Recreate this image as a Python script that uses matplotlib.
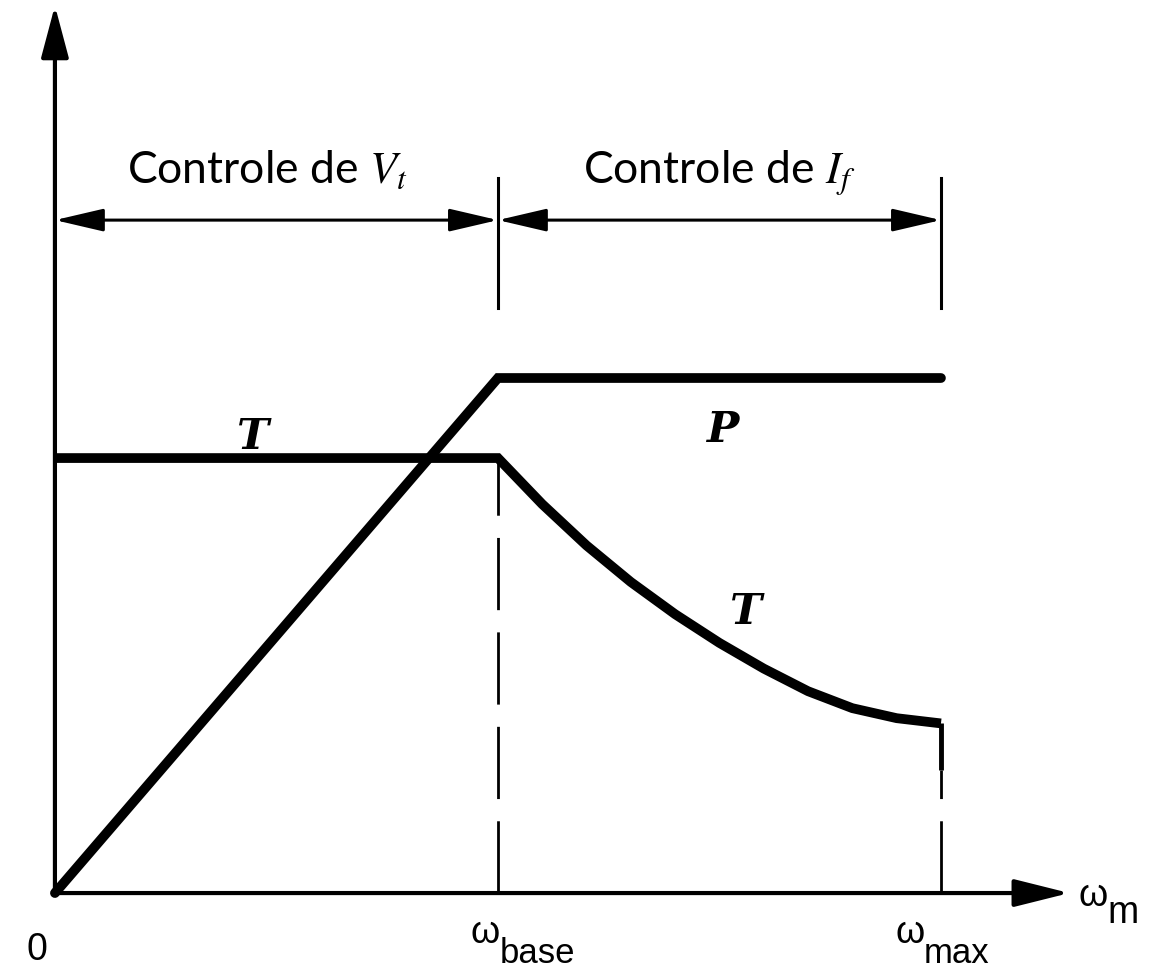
import matplotlib.pyplot as plt

# speed axis, per unit of base speed
w_base = 1.0
w_max = 2.0

# torque curve (per unit of rated torque)
t_w = [0.0, 1.0, 1.1, 1.2, 1.3, 1.4, 1.5, 1.6, 1.7, 1.8, 1.9, 2.0]
t_val = [1.0, 1.0, 0.894, 0.799, 0.715, 0.641, 0.575, 0.516, 0.464, 0.425, 0.402, 0.39]
t_drop = 0.283  # where the short vertical drop at w_max ends

# power curve
p_w = [0.0, 1.0, 2.0]
p_val = [0.0, 1.184, 1.184]

# dimension arrows and the axis arrow lengths
dim_y = 1.547
tick_lo, tick_hi = 1.345, 1.644
y_axis_top = 2.04
x_axis_end = 2.29

region_labels = ["Controle de $V_t$", "Controle de $I_f$"]

plt.rcParams['mathtext.fontset'] = 'stix'

fig = plt.figure(figsize=(11.66, 9.77), dpi=100)
ax = fig.add_axes([0, 0, 1, 1])
ax.set_xlim(-0.124, 2.508)
ax.set_ylim(-0.193, 2.053)
ax.axis('off')

k = 'black'

# axes with arrow heads
ax.annotate("", xy=(0, y_axis_top), xytext=(0, 0),
            arrowprops=dict(arrowstyle='-|>,head_length=3.2,head_width=0.85', mutation_scale=10,
                            lw=3, color=k, shrinkA=0, shrinkB=0))
ax.annotate("", xy=(x_axis_end, 0), xytext=(0, 0),
            arrowprops=dict(arrowstyle='-|>,head_length=3.4,head_width=0.85', mutation_scale=10,
                            lw=3, color=k, shrinkA=0, shrinkB=0))

# dimension arrows on top
for a, b in [(0, w_base), (w_base, w_max)]:
    ax.annotate("", xy=(b, dim_y), xytext=(a, dim_y),
                arrowprops=dict(arrowstyle='<|-|>,head_length=3.0,head_width=0.7', mutation_scale=10,
                                lw=2.2, color=k, shrinkA=0, shrinkB=0))
for w in (w_base, w_max):
    ax.plot([w, w], [tick_lo, tick_hi], color=k, lw=2.2)

# dashed guides
ax.plot([w_base, w_base], [0, t_val[1]], color=k, lw=2, ls=(0, (26, 8)))
ax.plot([w_max, w_max], [0, t_drop], color=k, lw=2, ls=(0, (26, 8)))

# curves
ax.plot(p_w, p_val, color=k, lw=7, solid_joinstyle='miter', solid_capstyle='round')
ax.plot(t_w, t_val, color=k, lw=7, solid_joinstyle='miter', solid_capstyle='butt')
ax.plot([w_max, w_max], [t_val[-1], t_drop], color=k, lw=3.5, solid_capstyle='butt')

# region labels
ax.text(0.48, 1.632, region_labels[0], family='Lato', fontsize=32, ha='center', va='baseline')
ax.text(1.50, 1.632, region_labels[1], family='Lato', fontsize=32, ha='center', va='baseline')

# curve labels
lab = dict(family='DejaVu Serif', fontsize=31, fontweight='bold', fontstyle='italic',
           ha='center', va='center')
ax.text(0.447, 1.048, "T", **lab)
ax.text(1.506, 1.064, "P", **lab)
ax.text(1.56, 0.645, "T", **lab)

# axis labels
sans = dict(family='Liberation Sans', fontsize=27)
ax.text(-0.04, -0.13, "0", ha='center', va='center', **sans)
ax.text(0.972, -0.115, "ω", ha='center', va='baseline', **sans)
ax.text(1.003, -0.16, "base", ha='left', va='baseline', fontsize=25, family='Liberation Sans')
ax.text(1.93, -0.115, "ω", ha='center', va='baseline', **sans)
ax.text(1.962, -0.16, "max", ha='left', va='baseline', fontsize=25, family='Liberation Sans')
ax.text(2.343, -0.03, "ω", ha='center', va='baseline', **sans)
ax.text(2.375, -0.07, "m", ha='left', va='baseline', **sans)

fig.savefig("out.png", dpi=100)
